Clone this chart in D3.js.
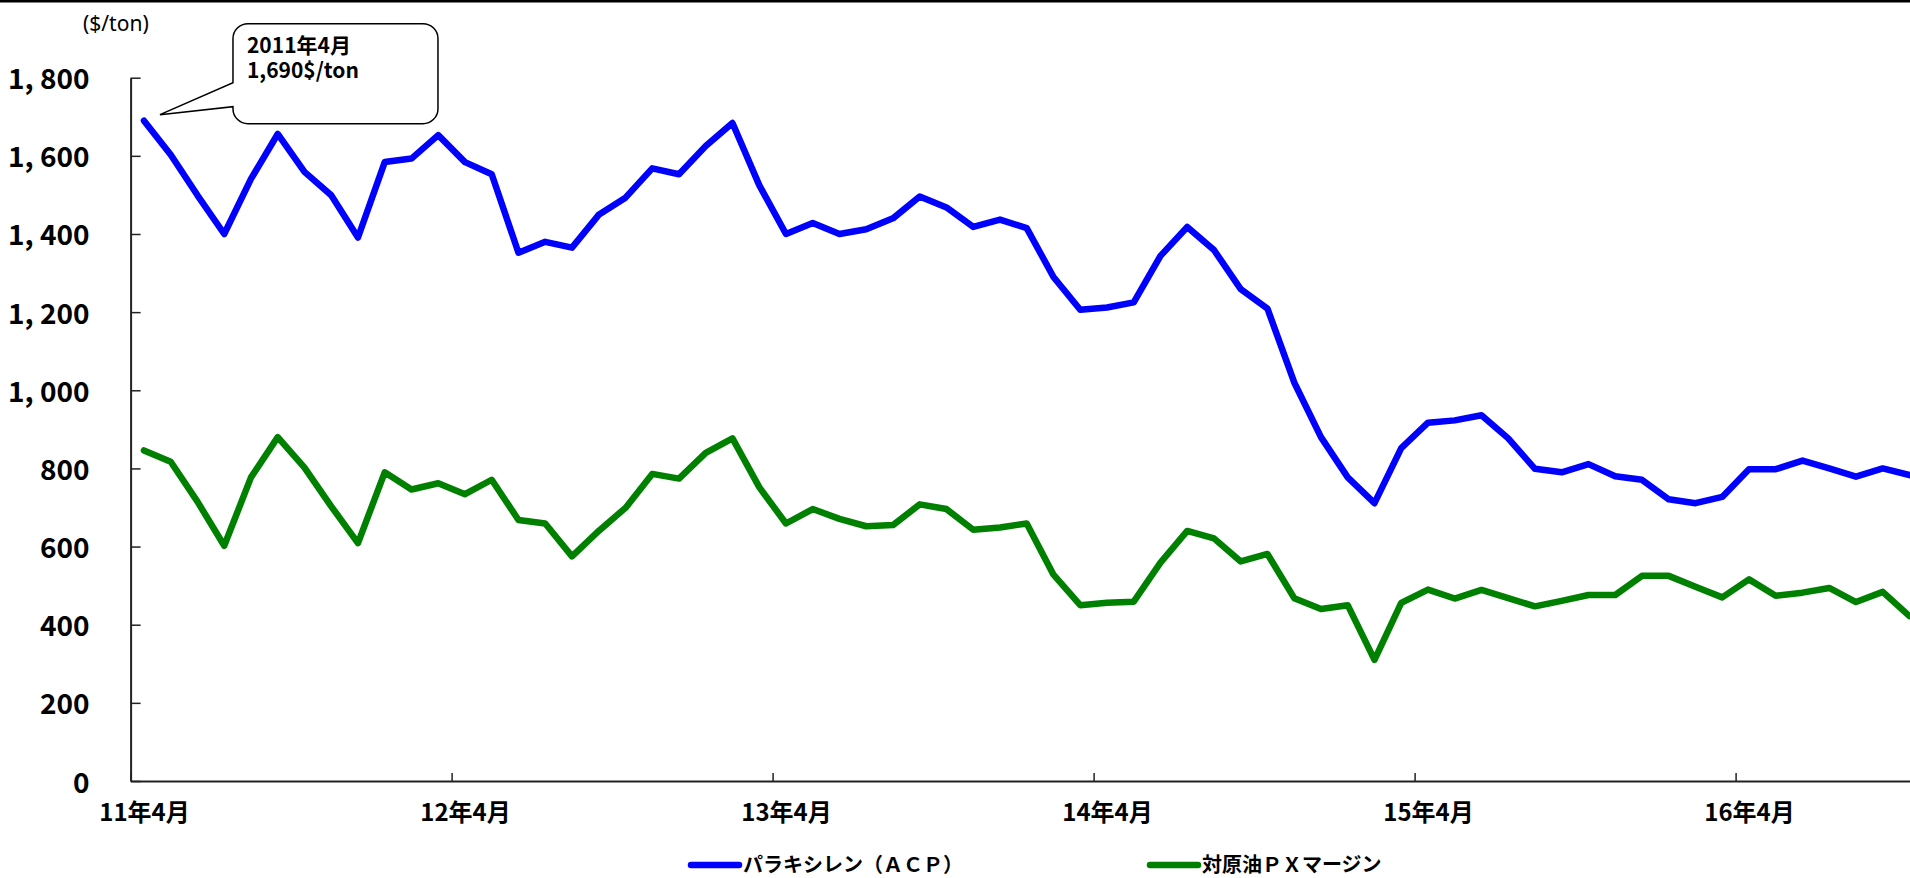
<!DOCTYPE html>
<html>
<head>
<meta charset="utf-8">
<script src="https://cdn.jsdelivr.net/npm/d3@7"></script>
<style>
  html, body { margin: 0; padding: 0; background: #fff; }
  svg { display: block; }
  text { font-family: "Noto Sans CJK JP", "Noto Sans", sans-serif; }
</style>
</head>
<body>
<svg id="chart" width="1910" height="878"></svg>
<script>
// ---------- data ----------
const xTickLabels = ["11年4月", "12年4月", "13年4月", "14年4月", "15年4月", "16年4月"];
const yTickValues = [0, 200, 400, 600, 800, 1000, 1200, 1400, 1600, 1800];
const yTickLabels = ["0", "200", "400", "600", "800", "1, 000", "1, 200", "1, 400", "1, 600", "1, 800"];
const seriesNames = ["パラキシレン（ＡＣＰ）", "対原油ＰＸマージン"];
const seriesColors = ["#0000ff", "#008000"];
const unitLabel = "($/ton)";
const annotationText = ["2011年4月", "1,690$/ton"];

// monthly, Apr 2011 .. Oct 2016
const paraxylene = [
  1690, 1603, 1499, 1400, 1541, 1656, 1559, 1499, 1391, 1584, 1593, 1653,
  1584, 1553, 1352, 1380, 1365, 1449, 1493, 1568, 1553, 1625, 1684, 1525,
  1400, 1428, 1400, 1412, 1440, 1496, 1468, 1418, 1437, 1415, 1290, 1206,
  1212, 1225, 1344, 1418, 1359, 1259, 1209, 1020, 880, 777, 711, 852,
  917, 923, 936, 877, 799, 790, 811, 780, 771, 721, 711, 727,
  798, 798, 820, 800, 779, 800, 783
];
const pxMargin = [
  846, 817, 715, 602, 777, 880, 802, 703, 609, 790, 746, 762,
  734, 771, 668, 659, 575, 640, 699, 786, 774, 840, 877, 752,
  659, 696, 671, 652, 655, 708, 696, 643, 649, 659, 528, 450,
  456, 459, 559, 640, 621, 562, 581, 468, 440, 450, 310, 456,
  490, 467, 489, 468, 447, 461, 476, 476, 525, 525, 497, 470,
  516, 474, 482, 494, 458, 484, 422
];

// ---------- layout ----------
const svg = d3.select("#chart");
const N = paraxylene.length;
const step = 26.75;
const x0 = 130.6;
const x = d3.scaleLinear().domain([-0.5, N - 0.5]).range([x0, x0 + N * step]);
const y = d3.scaleLinear().domain([0, 1800]).range([781, 77.7]);

// top border
svg.append("rect").attr("x", 0).attr("y", 0).attr("width", 1910).attr("height", 2.5).attr("fill", "#000");

// y axis
const yAxis = d3.axisLeft(y)
  .tickValues(yTickValues)
  .tickFormat((d, i) => yTickLabels[i])
  .tickSizeInner(-10)
  .tickSizeOuter(0)
  .tickPadding(41);
const gy = svg.append("g").attr("transform", `translate(${x0},0)`).call(yAxis);
gy.select(".domain").attr("stroke", "#222").attr("stroke-width", 2);
gy.selectAll(".tick line").attr("stroke", "#222").attr("stroke-width", 1.5);
gy.selectAll(".tick text")
  .attr("fill", "#000")
  .attr("font-size", 28)
  .attr("font-weight", "bold")
  .attr("dy", 11)
  .style("font-family", '"Noto Sans CJK JP", sans-serif');

// x axis: ticks at category boundaries every 12 months
const boundaryTicks = d3.range(-0.5, N, 12);
const xAxisTicks = d3.axisBottom(x)
  .tickValues(boundaryTicks)
  .tickFormat("")
  .tickSizeInner(-8)
  .tickSizeOuter(0);
const gx = svg.append("g").attr("transform", `translate(0,${y(0)})`).call(xAxisTicks);
gx.select(".domain").attr("stroke", "#222").attr("stroke-width", 2);
gx.selectAll(".tick line").attr("stroke", "#222").attr("stroke-width", 1.5);

// x labels at category centers
const labelIdx = xTickLabels.map((d, i) => i * 12);
const xAxisLabels = d3.axisBottom(x)
  .tickValues(labelIdx)
  .tickFormat((d, i) => xTickLabels[i])
  .tickSize(0)
  .tickPadding(0);
const gxl = svg.append("g").attr("transform", `translate(0,${y(0)})`).call(xAxisLabels);
gxl.select(".domain").remove();
gxl.selectAll(".tick text")
  .attr("y", 40)
  .attr("dy", 0)
  .attr("fill", "#000")
  .attr("font-size", 24)
  .attr("font-weight", "bold")
  .style("font-family", '"Noto Sans CJK JP", sans-serif');

// lines
const line = d3.line().x((d, i) => x(i)).y(d => y(d));
[pxMargin, paraxylene].forEach((s, k) => {
  const color = k === 0 ? seriesColors[1] : seriesColors[0];
  svg.append("path")
    .datum(s)
    .attr("d", line)
    .attr("fill", "none")
    .attr("stroke", color)
    .attr("stroke-width", 6.5)
    .attr("stroke-linejoin", "round")
    .attr("stroke-linecap", "round");
});

// unit label
svg.append("text")
  .attr("x", 83).attr("y", 31)
  .attr("font-size", 21)
  .attr("fill", "#000")
  .style("font-family", '"Noto Sans", sans-serif')
  .text(unitLabel);

// callout
const px = x(0), py = y(paraxylene[0]);
const bl = px + 89, bt = py - 97, bw = 205, bh = 100, r = 15;
const tipX = px + 16, tipY = py - 6;
const p = d3.path();
p.moveTo(bl + r, bt);
p.lineTo(bl + bw - r, bt);
p.arcTo(bl + bw, bt, bl + bw, bt + r, r);
p.lineTo(bl + bw, bt + bh - r);
p.arcTo(bl + bw, bt + bh, bl + bw - r, bt + bh, r);
p.lineTo(bl + r, bt + bh);
p.arcTo(bl, bt + bh, bl, bt + bh - r, r);
p.lineTo(bl, bt + 83);
p.lineTo(tipX, tipY);
p.lineTo(bl, bt + 59);
p.lineTo(bl, bt + r);
p.arcTo(bl, bt, bl + r, bt, r);
p.closePath();
svg.append("path").attr("d", p.toString())
  .attr("fill", "#fff").attr("stroke", "#000").attr("stroke-width", 1.5);
const callText = svg.append("text")
  .attr("x", bl + 14).attr("y", bt + 29)
  .attr("font-size", 21)
  .attr("font-weight", "bold")
  .attr("fill", "#000");
annotationText.forEach((t, i) => {
  callText.append("tspan")
    .attr("x", bl + 14)
    .attr("dy", i === 0 ? 0 : 25)
    .text(t);
});

// legend
const legendItems = [
  { name: seriesNames[0], color: seriesColors[0], x: 691 },
  { name: seriesNames[1], color: seriesColors[1], x: 1150 }
];
const lg = svg.append("g");
legendItems.forEach(it => {
  lg.append("line")
    .attr("x1", it.x).attr("x2", it.x + 48)
    .attr("y1", 865).attr("y2", 865)
    .attr("stroke", it.color).attr("stroke-width", 6.5).attr("stroke-linecap", "round");
  lg.append("text")
    .attr("x", it.x + 52).attr("y", 872)
    .attr("font-size", 20)
    .attr("font-weight", "bold")
    .attr("fill", "#000")
    .text(it.name);
});
</script>
</body>
</html>
